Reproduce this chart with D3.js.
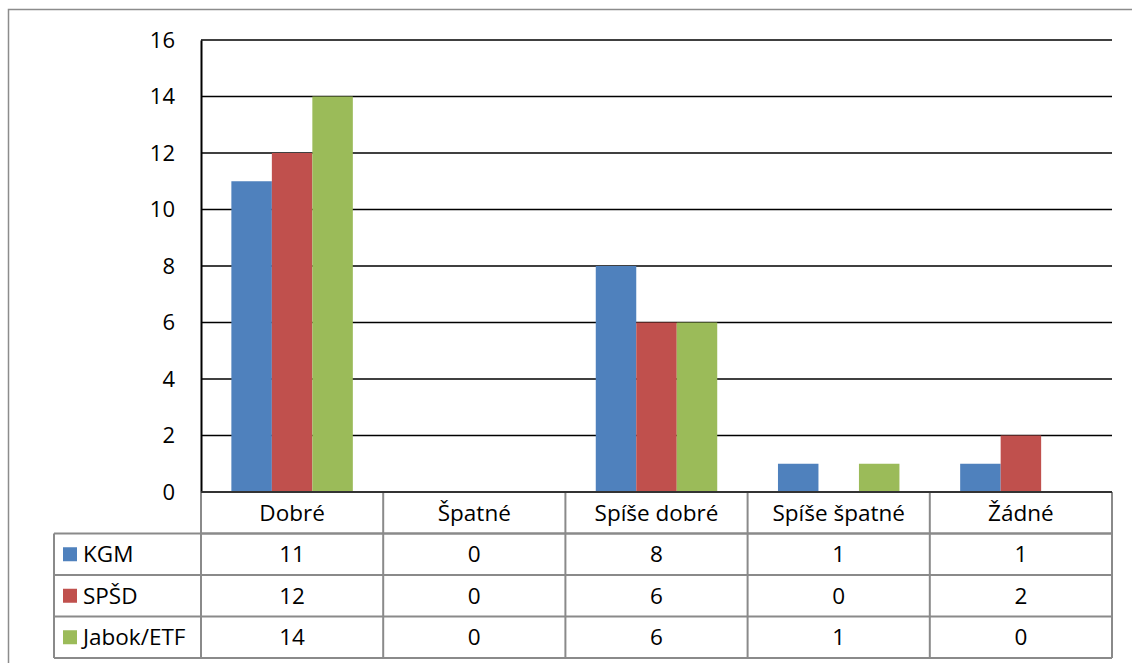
<!DOCTYPE html>
<html>
<head>
<meta charset="utf-8">
<script src="https://cdn.jsdelivr.net/npm/d3@7"></script>
<style>
  body { margin: 0; background: #fff; }
  svg { display: block; font-family: "Open Sans", Lato, sans-serif; }
</style>
</head>
<body>
<svg width="1132" height="663"></svg>
<script>
var categories = ["Dobré", "Špatné", "Spíše dobré", "Spíše špatné", "Žádné"];
var seriesNames = ["KGM", "SPŠD", "Jabok/ETF"];
var kgm = [11, 0, 8, 1, 1];
var spsd = [12, 0, 6, 0, 2];
var jabok = [14, 0, 6, 1, 0];
var colors = ["#4F81BD", "#C0504D", "#9BBB59"];
var yTicks = [0, 2, 4, 6, 8, 10, 12, 14, 16];

var seriesValues = [kgm, spsd, jabok];

var svg = d3.select("svg");
var plotLeft = 201, plotRight = 1112, plotTop = 40, plotBottom = 492;
var rowH = 41.5, tableLeft = 54;
var fontSize = "22.5px";

// outer chart border
svg.append("rect")
    .attr("x", 8.5).attr("y", 9.5)
    .attr("width", 1140).attr("height", 700)
    .style("fill", "none")
    .style("stroke", "#8c8c8c")
    .style("stroke-width", "1.5px");

var x0 = d3.scaleBand().domain(categories).range([plotLeft, plotRight]);
var x1 = d3.scaleBand().domain(seriesNames).range([0, x0.bandwidth()]).paddingOuter(0.75);
var y = d3.scaleLinear().domain([0, 16]).range([plotBottom, plotTop]);

// gridlines
svg.append("g")
    .selectAll("line")
    .data(yTicks)
    .enter()
    .append("line")
    .attr("x1", plotLeft).attr("x2", plotRight)
    .attr("y1", function(d) { return y(d); })
    .attr("y2", function(d) { return y(d); })
    .style("stroke", "#000")
    .style("stroke-width", "1.5px");

// bars
var groups = svg.append("g")
    .selectAll("g")
    .data(categories)
    .enter()
    .append("g")
    .attr("transform", function(d) { return "translate(" + x0(d) + ",0)"; });

groups.selectAll("rect")
    .data(function(d, ci) {
        return seriesNames.map(function(s, si) { return {s: s, si: si, v: seriesValues[si][ci]}; });
    })
    .enter()
    .append("rect")
    .attr("x", function(d) { return x1(d.s); })
    .attr("width", x1.bandwidth())
    .attr("y", function(d) { return y(d.v); })
    .attr("height", function(d) { return plotBottom - y(d.v); })
    .style("fill", function(d) { return colors[d.si]; });

// y axis
var yAxis = svg.append("g")
    .attr("transform", "translate(" + plotLeft + ",0)")
    .call(d3.axisLeft(y).tickValues(yTicks).tickSize(0).tickPadding(26));
yAxis.select(".domain").style("stroke", "#000").style("stroke-width", "2px");
yAxis.selectAll("text")
    .style("font-family", "'Open Sans', sans-serif")
    .style("font-size", "22px")
    .style("fill", "#000");

// data table
var tbl = svg.append("g");
var grey = "#8a8a8a";

// header row
tbl.selectAll("text.cat")
    .data(categories)
    .enter()
    .append("text")
    .attr("class", "cat")
    .attr("x", function(d) { return x0(d) + x0.bandwidth() / 2; })
    .attr("y", plotBottom + rowH / 2 + 8)
    .style("text-anchor", "middle")
    .style("font-size", fontSize)
    .text(function(d) { return d; });

// value rows
seriesNames.forEach(function(s, si) {
    var ry = plotBottom + rowH * (si + 1);
    tbl.append("rect")
        .attr("x", 63).attr("y", ry + rowH / 2 - 7)
        .attr("width", 14).attr("height", 14)
        .style("fill", colors[si]);
    tbl.append("text")
        .attr("x", 83).attr("y", ry + rowH / 2 + 8)
        .style("font-size", fontSize)
        .text(s);
    tbl.selectAll("text.v" + si)
        .data(seriesValues[si])
        .enter()
        .append("text")
        .attr("x", function(d, i) { return x0(categories[i]) + x0.bandwidth() / 2; })
        .attr("y", ry + rowH / 2 + 8)
        .style("text-anchor", "middle")
        .style("font-size", fontSize)
        .text(function(d) { return d; });
});

// table lines
var hLines = [
    [plotLeft, plotRight, plotBottom + rowH],
    [tableLeft, plotRight, plotBottom + rowH],
    [tableLeft, plotRight, plotBottom + rowH * 2],
    [tableLeft, plotRight, plotBottom + rowH * 3],
    [tableLeft, plotRight, plotBottom + rowH * 4]
];
tbl.selectAll("line.h")
    .data(hLines)
    .enter()
    .append("line")
    .attr("x1", function(d) { return d[0]; })
    .attr("x2", function(d) { return d[1]; })
    .attr("y1", function(d) { return d[2]; })
    .attr("y2", function(d) { return d[2]; })
    .style("stroke", grey)
    .style("stroke-width", "2px");

var vx = categories.map(function(c) { return x0(c); }).concat([plotRight]);
tbl.selectAll("line.v")
    .data(vx)
    .enter()
    .append("line")
    .attr("x1", function(d) { return d; })
    .attr("x2", function(d) { return d; })
    .attr("y1", plotBottom)
    .attr("y2", plotBottom + rowH * 4)
    .style("stroke", grey)
    .style("stroke-width", "2px");

tbl.append("line")
    .attr("x1", tableLeft).attr("x2", tableLeft)
    .attr("y1", plotBottom + rowH).attr("y2", plotBottom + rowH * 4)
    .style("stroke", grey)
    .style("stroke-width", "2px");

// zero line on top of table
svg.append("line")
    .attr("x1", plotLeft).attr("x2", plotRight)
    .attr("y1", plotBottom).attr("y2", plotBottom)
    .style("stroke", "#333")
    .style("stroke-width", "2px");
</script>
</body>
</html>
